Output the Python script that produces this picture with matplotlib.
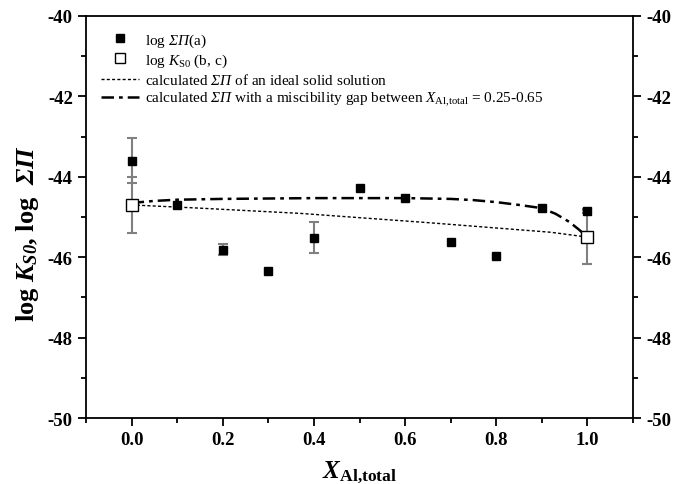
import matplotlib
matplotlib.use("Agg")
import matplotlib.pyplot as plt
from matplotlib.ticker import MultipleLocator
import numpy as np

plt.rcParams['font.family'] = ['Liberation Serif', 'DejaVu Serif']
plt.rcParams['axes.unicode_minus'] = False
plt.rcParams['mathtext.fontset'] = 'custom'
plt.rcParams['mathtext.rm'] = 'Liberation Serif'
plt.rcParams['mathtext.it'] = 'Liberation Serif:italic'
plt.rcParams['mathtext.bf'] = 'Liberation Serif:bold'
plt.rcParams['mathtext.bfit'] = 'Liberation Serif:italic'          # used for italic Greek in legend
plt.rcParams['mathtext.sf'] = 'Liberation Serif:bold:italic'       # used for bold italic in labels

# measured log ΣΠ (a)
x_sum = [0.0, 0.1, 0.2, 0.3, 0.4, 0.5, 0.6, 0.7, 0.8, 0.9, 1.0]
y_sum = [-43.60, -44.70, -45.81, -46.34, -45.51, -44.28, -44.53, -45.62, -45.98, -44.77, -44.85]
err_sum = [0.56, 0.0, 0.14, 0.0, 0.38, 0.0, 0.0, 0.0, 0.0, 0.0, 0.05]

# log K_S0 (b, c)
x_ks = [0.0, 1.0]
y_ks = [-44.70, -45.50]
err_ks = [0.70, 0.68]

# calculated ΣΠ, ideal solid solution
x_ideal = [0.0, 0.15, 0.37, 0.65, 0.92, 1.0]
y_ideal = [-44.70, -44.78, -44.91, -45.14, -45.38, -45.50]

# calculated ΣΠ, miscibility gap
x_gap = [0.0, 0.05, 0.1, 0.2, 0.3, 0.4, 0.5, 0.6, 0.7, 0.75, 0.8, 0.85, 0.9, 0.93, 0.96, 0.98, 1.0]
y_gap = [-44.65, -44.60, -44.57, -44.55, -44.54, -44.53, -44.53, -44.53, -44.55, -44.58,
         -44.63, -44.70, -44.78, -44.92, -45.12, -45.30, -45.50]

fig = plt.figure(figsize=(6.87, 4.85), dpi=100)
ax = fig.add_axes([86/687, 1 - 419/485, (633-86)/687, (419-17)/485])

ax.plot(x_ideal, y_ideal, linestyle=(0, (2.2, 1.6)), color='black', lw=1.0,
        label=r'calculated $\mathbfit{\Sigma\Pi}$ of an ideal solid solution', zorder=2)
ax.plot(x_gap, y_gap, linestyle=(0, (5, 2, 1.5, 2)), color='black', lw=1.8,
        label=r'calculated $\mathbfit{\Sigma\Pi}$ with a miscibility gap between $\mathit{X}_{\mathrm{Al{,}total}}$ = 0.25-0.65', zorder=2)

xs = np.array(x_sum); ys = np.array(y_sum); es = np.array(err_sum)
m = es > 0
ax.errorbar(xs[m], ys[m], yerr=es[m], fmt='none', ecolor='#808080', elinewidth=1.5,
            capsize=3.5, capthick=1.5, zorder=3)
ax.errorbar(x_ks, y_ks, yerr=err_ks, fmt='none', ecolor='#808080', elinewidth=1.5,
            capsize=3.5, capthick=1.5, zorder=3)
h1, = ax.plot(x_sum, y_sum, 's', color='black', markersize=5.5, linestyle='none',
              label=r'log $\mathbfit{\Sigma\Pi}$(a)', zorder=5)
h2, = ax.plot(x_ks, y_ks, 's', markerfacecolor='white', markeredgecolor='black',
              markeredgewidth=1.0, markersize=8, linestyle='none',
              label=r'log $\mathit{K}_{\mathrm{S0}}$ (b, c)', zorder=4)

ax.set_xlim(-0.1, 1.1)
ax.set_ylim(-50, -40)
ax.xaxis.set_major_locator(MultipleLocator(0.2))
ax.xaxis.set_minor_locator(MultipleLocator(0.1))
ax.yaxis.set_major_locator(MultipleLocator(2))
ax.yaxis.set_minor_locator(MultipleLocator(1))
ax.set_xticks([0.0, 0.2, 0.4, 0.6, 0.8, 1.0])
ax.set_xticklabels(['0.0', '0.2', '0.4', '0.6', '0.8', '1.0'])
ax.tick_params(which='both', direction='out', top=False, right=True, labelright=True, width=1.3)
ax.tick_params(which='major', length=6, labelsize=13.5)
ax.tick_params(which='minor', length=3.5)
for lab in ax.get_xticklabels() + ax.get_yticklabels():
    lab.set_fontweight('bold')
for t in ax.yaxis.get_major_ticks():
    t.label2.set_fontweight('bold')
for s in ax.spines.values():
    s.set_linewidth(1.3)

ax.set_xlabel(r'$\mathsf{X}_{\mathbf{Al{,}total}}$', fontsize=18, labelpad=8)
ax.set_ylabel(r'$\mathbf{log}\ \mathsf{K}_{\mathsf{S0}}\mathbf{{,}\ log}\ \ \mathsf{\Sigma\Pi}$',
              fontsize=19)
ax.yaxis.set_label_coords(-0.082, 0.46)

handles = [h1, h2] + ax.get_lines()[:2]
leg = ax.legend(handles=handles, loc='upper left', bbox_to_anchor=(0.01, 0.985), frameon=False,
                fontsize=11, handlelength=2.5, handletextpad=0.4, labelspacing=0.2, borderaxespad=0.2)
leg.legend_handles[1].set_markersize(6.5)

fig.savefig('out.png', dpi=100)
